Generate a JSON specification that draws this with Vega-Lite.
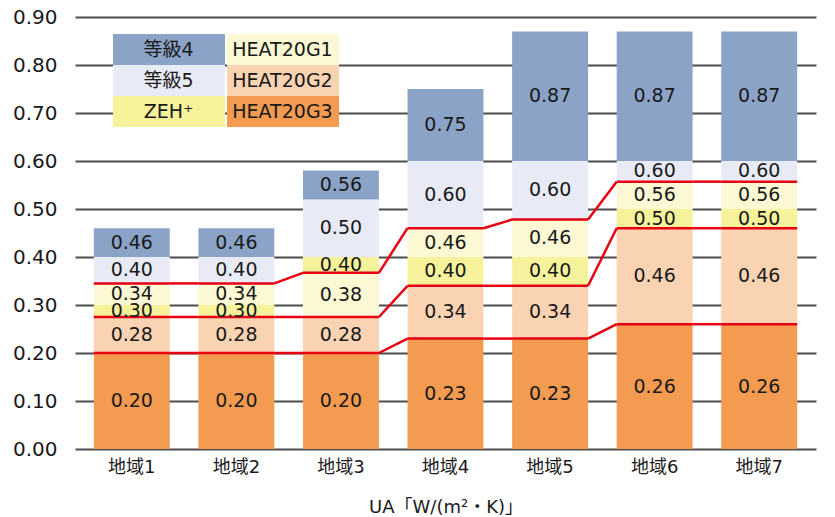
{
  "$schema": "https://vega.github.io/schema/vega-lite/v6.json",
  "autosize": {"type": "none"},
  "width": 741,
  "height": 432,
  "padding": {"left": 75, "top": 17, "right": 19, "bottom": 68},
  "background": "white",
  "datasets": {
    "bars": [
      {"region": "地域1", "cat": "HEAT20G3", "lo": 0, "hi": 0.20, "label": "0.20"},
      {"region": "地域1", "cat": "HEAT20G2", "lo": 0.20, "hi": 0.275, "label": "0.28"},
      {"region": "地域1", "cat": "ZEH⁺", "lo": 0.275, "hi": 0.30, "label": "0.30"},
      {"region": "地域1", "cat": "HEAT20G1", "lo": 0.30, "hi": 0.345, "label": "0.34"},
      {"region": "地域1", "cat": "等級5", "lo": 0.345, "hi": 0.40, "label": "0.40"},
      {"region": "地域1", "cat": "等級4", "lo": 0.40, "hi": 0.46, "label": "0.46"},
      {"region": "地域2", "cat": "HEAT20G3", "lo": 0, "hi": 0.20, "label": "0.20"},
      {"region": "地域2", "cat": "HEAT20G2", "lo": 0.20, "hi": 0.275, "label": "0.28"},
      {"region": "地域2", "cat": "ZEH⁺", "lo": 0.275, "hi": 0.30, "label": "0.30"},
      {"region": "地域2", "cat": "HEAT20G1", "lo": 0.30, "hi": 0.345, "label": "0.34"},
      {"region": "地域2", "cat": "等級5", "lo": 0.345, "hi": 0.40, "label": "0.40"},
      {"region": "地域2", "cat": "等級4", "lo": 0.40, "hi": 0.46, "label": "0.46"},
      {"region": "地域3", "cat": "HEAT20G3", "lo": 0, "hi": 0.20, "label": "0.20"},
      {"region": "地域3", "cat": "HEAT20G2", "lo": 0.20, "hi": 0.275, "label": "0.28"},
      {"region": "地域3", "cat": "HEAT20G1", "lo": 0.275, "hi": 0.367, "label": "0.38"},
      {"region": "地域3", "cat": "ZEH⁺", "lo": 0.367, "hi": 0.40, "label": "0.40"},
      {"region": "地域3", "cat": "等級5", "lo": 0.40, "hi": 0.52, "label": "0.50"},
      {"region": "地域3", "cat": "等級4", "lo": 0.52, "hi": 0.58, "label": "0.56"},
      {"region": "地域4", "cat": "HEAT20G3", "lo": 0, "hi": 0.23, "label": "0.23"},
      {"region": "地域4", "cat": "HEAT20G2", "lo": 0.23, "hi": 0.34, "label": "0.34"},
      {"region": "地域4", "cat": "ZEH⁺", "lo": 0.34, "hi": 0.40, "label": "0.40"},
      {"region": "地域4", "cat": "HEAT20G1", "lo": 0.40, "hi": 0.46, "label": "0.46"},
      {"region": "地域4", "cat": "等級5", "lo": 0.46, "hi": 0.60, "label": "0.60"},
      {"region": "地域4", "cat": "等級4", "lo": 0.60, "hi": 0.75, "label": "0.75"},
      {"region": "地域5", "cat": "HEAT20G3", "lo": 0, "hi": 0.23, "label": "0.23"},
      {"region": "地域5", "cat": "HEAT20G2", "lo": 0.23, "hi": 0.34, "label": "0.34"},
      {"region": "地域5", "cat": "ZEH⁺", "lo": 0.34, "hi": 0.40, "label": "0.40"},
      {"region": "地域5", "cat": "HEAT20G1", "lo": 0.40, "hi": 0.478, "label": "0.46"},
      {"region": "地域5", "cat": "等級5", "lo": 0.478, "hi": 0.60, "label": "0.60"},
      {"region": "地域5", "cat": "等級4", "lo": 0.60, "hi": 0.87, "label": "0.87"},
      {"region": "地域6", "cat": "HEAT20G3", "lo": 0, "hi": 0.26, "label": "0.26"},
      {"region": "地域6", "cat": "HEAT20G2", "lo": 0.26, "hi": 0.46, "label": "0.46"},
      {"region": "地域6", "cat": "ZEH⁺", "lo": 0.46, "hi": 0.50, "label": "0.50"},
      {"region": "地域6", "cat": "HEAT20G1", "lo": 0.50, "hi": 0.557, "label": "0.56"},
      {"region": "地域6", "cat": "等級5", "lo": 0.557, "hi": 0.60, "label": "0.60"},
      {"region": "地域6", "cat": "等級4", "lo": 0.60, "hi": 0.87, "label": "0.87"},
      {"region": "地域7", "cat": "HEAT20G3", "lo": 0, "hi": 0.26, "label": "0.26"},
      {"region": "地域7", "cat": "HEAT20G2", "lo": 0.26, "hi": 0.46, "label": "0.46"},
      {"region": "地域7", "cat": "ZEH⁺", "lo": 0.46, "hi": 0.50, "label": "0.50"},
      {"region": "地域7", "cat": "HEAT20G1", "lo": 0.50, "hi": 0.557, "label": "0.56"},
      {"region": "地域7", "cat": "等級5", "lo": 0.557, "hi": 0.60, "label": "0.60"},
      {"region": "地域7", "cat": "等級4", "lo": 0.60, "hi": 0.87, "label": "0.87"}
    ],
    "lines": [
      {"region": "地域1", "G3": 0.20, "G2": 0.275, "G1": 0.345},
      {"region": "地域2", "G3": 0.20, "G2": 0.275, "G1": 0.345},
      {"region": "地域3", "G3": 0.20, "G2": 0.275, "G1": 0.367},
      {"region": "地域4", "G3": 0.23, "G2": 0.34, "G1": 0.46},
      {"region": "地域5", "G3": 0.23, "G2": 0.34, "G1": 0.478},
      {"region": "地域6", "G3": 0.26, "G2": 0.46, "G1": 0.557},
      {"region": "地域7", "G3": 0.26, "G2": 0.46, "G1": 0.557}
    ]
  },
  "encoding": {
    "x": {
      "field": "region",
      "type": "nominal",
      "sort": ["地域1", "地域2", "地域3", "地域4", "地域5", "地域6", "地域7"],
      "title": "UA「W/(m²・K)」",
      "scale": {"paddingInner": 0.274, "paddingOuter": 0.18},
      "axis": {
        "labelAngle": 0,
        "domain": false,
        "ticks": false,
        "grid": false,
        "labelFontSize": 18,
        "labelPadding": 9,
        "labelColor": "#1a1a1a",
        "titleFontSize": 18,
        "titleFontWeight": "normal",
        "titleColor": "#1a1a1a",
        "titlePadding": 22
      }
    }
  },
  "layer": [
    {
      "data": {"name": "bars"},
      "mark": {"type": "bar"},
      "encoding": {
        "y": {
          "field": "lo",
          "type": "quantitative",
          "title": null,
          "scale": {"domain": [0, 0.9], "nice": false, "zero": true},
          "axis": {
            "values": [0, 0.1, 0.2, 0.3, 0.4, 0.5, 0.6, 0.7, 0.8, 0.9],
            "format": ".2f",
            "domain": false,
            "ticks": false,
            "grid": true,
            "gridColor": "#4d4d4d",
            "gridWidth": 2,
            "gridOpacity": 1,
            "labelFontSize": 20,
            "labelPadding": 18,
            "labelColor": "#1a1a1a"
          }
        },
        "y2": {"field": "hi"},
        "color": {
          "field": "cat",
          "type": "nominal",
          "scale": {
            "domain": ["等級4", "等級5", "ZEH⁺", "HEAT20G1", "HEAT20G2", "HEAT20G3"],
            "range": ["#8ba3c7", "#e8eaf5", "#f6f29b", "#fbf8d3", "#f9d3b2", "#f29b51"]
          },
          "legend": {
            "title": null,
            "orient": "none",
            "legendX": 38,
            "legendY": 17,
            "columns": 2,
            "columnPadding": 0,
            "rowPadding": 0,
            "padding": 0,
            "symbolType": "M-3.613,-1H3.613V1H-3.613Z",
            "symbolSize": 961,
            "symbolOffset": 40.5,
            "symbolStrokeWidth": 0,
            "symbolOpacity": 1,
            "labelAlign": "center",
            "labelOffset": -16,
            "labelFontSize": 19,
            "labelColor": "#1a1a1a",
            "labelLimit": 300
          }
        }
      }
    },
    {
      "data": {"name": "lines"},
      "transform": [{"fold": ["G3", "G2", "G1"], "as": ["series", "v"]}],
      "mark": {"type": "tick", "orient": "horizontal", "color": "#e60012", "size": 76, "thickness": 2.5, "opacity": 1},
      "encoding": {
        "y": {"field": "v", "type": "quantitative", "title": null}
      }
    },
    {
      "data": {"name": "lines"},
      "transform": [
        {"fold": ["G3", "G2", "G1"], "as": ["series", "v"]},
        {"window": [{"op": "lead", "field": "v", "as": "v2"}, {"op": "lead", "field": "region", "as": "to"}], "groupby": ["series"], "sort": [{"field": "region"}]},
        {"filter": "datum.to != null"}
      ],
      "mark": {"type": "rule", "color": "#e60012", "strokeWidth": 2.5, "xOffset": 38, "x2Offset": -38},
      "encoding": {
        "x2": {"field": "to"},
        "y": {"field": "v", "type": "quantitative", "title": null},
        "y2": {"field": "v2"}
      }
    },
    {
      "data": {"name": "bars"},
      "transform": [{"fold": ["lo", "hi"], "as": ["k", "pos"]}],
      "mark": {"type": "text", "fontSize": 19, "color": "#1a1a1a"},
      "encoding": {
        "y": {"field": "pos", "aggregate": "mean", "type": "quantitative", "title": null},
        "text": {"field": "label"},
        "detail": {"field": "cat"}
      }
    }
  ],
  "config": {
    "font": "DejaVu Sans, Noto Sans CJK JP",
    "view": {"stroke": null}
  }
}
